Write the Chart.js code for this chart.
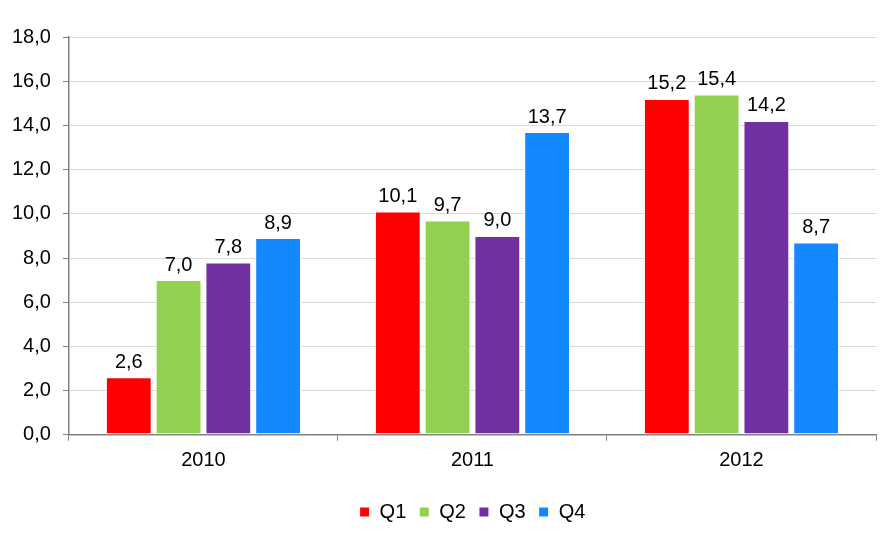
<!DOCTYPE html>
<html><head><meta charset="utf-8">
<script src="https://cdn.jsdelivr.net/npm/chart.js@4"></script>
<style>html,body{margin:0;padding:0;background:#fff}#wrap{width:890px;height:535px}</style>
</head><body><div id="wrap"><canvas id="c"></canvas></div>
<script>
const categories = ["2010", "2011", "2012"];
const seriesNames = ["Q1", "Q2", "Q3", "Q4"];
const q1 = [2.6, 10.1, 15.2];
const q2 = [7.0, 9.7, 15.4];
const q3 = [7.8, 9.0, 14.2];
const q4 = [8.9, 13.7, 8.7];
const colors = ["#FF0000", "#92D050", "#7030A0", "#1488FF"];
const fmt = v => v.toFixed(1).replace(".", ",");
const FONT = "'Liberation Sans', Arial, sans-serif";

const labelPlugin = {
  id: "barLabels",
  afterLayout(chart) {
    // centre the legend under the plot area rather than the whole canvas
    const lg = chart.legend, ca = chart.chartArea;
    if (lg && ca) {
      const shift = (ca.left + ca.right) / 2 - (lg.left + lg.right) / 2;
      lg.left += shift; lg.right += shift;
    }
  },
  afterDatasetsDraw(chart) {
    const ctx = chart.ctx;
    ctx.save();
    ctx.font = "20px " + FONT;
    ctx.fillStyle = "#000";
    ctx.textAlign = "center";
    ctx.textBaseline = "bottom";
    chart.data.datasets.forEach((ds, i) => {
      chart.getDatasetMeta(i).data.forEach((bar, j) => {
        ctx.fillText(fmt(ds.data[j]), bar.x, bar.y - 5);
      });
    });
    ctx.restore();
  }
};

const all = [q1, q2, q3, q4];
new Chart(document.getElementById("c"), {
  type: "bar",
  data: {
    labels: categories,
    datasets: seriesNames.map((n, i) => ({
      label: n, data: all[i], backgroundColor: colors[i],
      borderColor: "#fff", borderWidth: 1, borderSkipped: false,
      barPercentage: 0.92, categoryPercentage: 0.74
    }))
  },
  options: {
    responsive: true, maintainAspectRatio: false, animation: false,
    layout: { padding: { top: 37, right: 14, left: 0, bottom: 3 } },
    plugins: {
      legend: {
        position: "bottom",
        title: { display: true, text: " ", font: { size: 1 }, padding: { top: 7, bottom: 0 } },
        labels: { boxWidth: 10, boxHeight: 10, padding: 13, color: "#000",
          font: { family: FONT, size: 20 } }
      },
      tooltip: { enabled: false }
    },
    scales: {
      y: {
        min: 0, max: 18,
        ticks: { stepSize: 2, color: "#000", padding: 12, callback: v => fmt(v),
          font: { family: FONT, size: 20 } },
        grid: { color: "#D9D9D9", tickColor: "#808080", tickLength: 6 },
        border: { color: "#808080", width: 1.5 }
      },
      x: {
        ticks: { color: "#000", padding: 8,
          font: { family: FONT, size: 20 } },
        grid: { drawOnChartArea: false, offset: true, tickColor: "#808080", tickLength: 6 },
        border: { color: "#808080", width: 1.5 }
      }
    }
  },
  plugins: [labelPlugin]
});
</script></body></html>
